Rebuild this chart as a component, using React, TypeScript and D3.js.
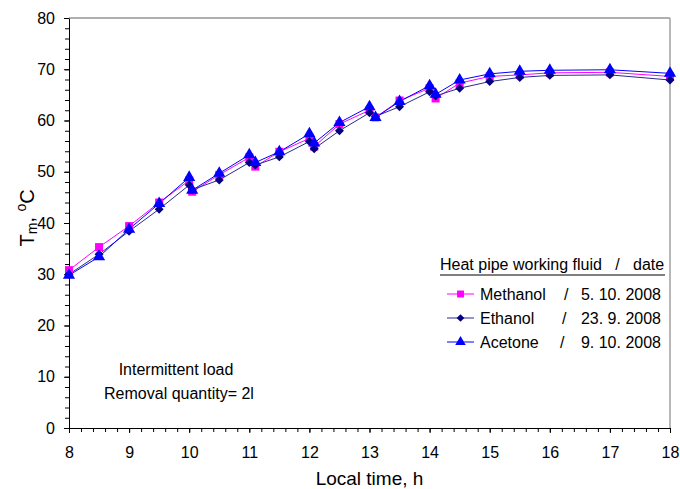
import { useEffect, useRef } from "react";
import * as d3 from "d3";

// local time, h (the second point after each full hour is the reading after water removal)
const times = [8, 8.5, 9, 9.5, 10, 10.05, 10.5, 11, 11.1, 11.5, 12, 12.08, 12.5, 13, 13.1, 13.5, 14, 14.1, 14.5, 15, 15.5, 16, 17, 18];

const methanol = [30.8, 35.3, 39.4, 44.0, 48.3, 46.1, 49.4, 52.8, 51.0, 53.9, 56.5, 54.9, 59.3, 62.0, 60.6, 63.9, 66.3, 64.3, 67.3, 68.6, 68.9, 69.3, 69.4, 68.6];
const ethanol = [30.0, 33.9, 38.4, 42.7, 47.4, 46.5, 48.4, 51.8, 51.3, 52.9, 55.9, 54.5, 58.0, 61.5, 60.8, 62.7, 65.6, 64.8, 66.3, 67.6, 68.4, 68.8, 68.9, 67.9];
const acetone = [29.8, 33.4, 38.8, 43.8, 48.9, 46.4, 49.7, 53.3, 51.8, 53.9, 57.4, 55.6, 59.6, 62.7, 60.6, 63.7, 66.8, 65.1, 67.9, 69.1, 69.6, 69.8, 69.9, 69.2];

const fluids = ["Methanol", "Ethanol", "Acetone"];
const dates = ["5. 10. 2008", "23. 9. 2008", "9. 10. 2008"];

const xTicks = [8, 9, 10, 11, 12, 13, 14, 15, 16, 17, 18];
const yTicks = [0, 10, 20, 30, 40, 50, 60, 70, 80];

const W = 680;
const H = 489;
const m = { l: 69, r: 10, t: 18, b: 61 };
const FONT = "'Liberation Sans', Arial, sans-serif";

const App = () => {
  const svgRef = useRef<SVGSVGElement>(null);

  useEffect(() => {
    const svg = d3.select(svgRef.current);
    svg.selectAll("*").remove();

    const x = d3.scaleLinear().domain([8, 18]).range([m.l, W - m.r]);
    const y = d3.scaleLinear().domain([0, 80]).range([H - m.b, m.t]);

    // frame (top and right)
    svg.append("line").attr("x1", m.l).attr("x2", W - m.r).attr("y1", m.t).attr("y2", m.t)
      .attr("stroke", "#606060").attr("stroke-width", 1);
    svg.append("line").attr("x1", W - m.r).attr("x2", W - m.r).attr("y1", m.t).attr("y2", H - m.b)
      .attr("stroke", "#a0a0a0").attr("stroke-width", 1.5);

    // minor ticks
    const xMinor = d3.range(8, 18.001, 0.2);
    const yMinor = d3.range(0, 80.001, 2);
    svg.append("g")
      .attr("transform", `translate(0,${H - m.b})`)
      .call(d3.axisBottom(x).tickValues(xMinor).tickSize(4).tickFormat(() => ""))
      .call((g) => g.select(".domain").remove());
    svg.append("g")
      .attr("transform", `translate(${m.l},0)`)
      .call(d3.axisLeft(y).tickValues(yMinor).tickSize(4).tickFormat(() => ""))
      .call((g) => g.select(".domain").remove());

    // major axes
    const xAxis = d3.axisBottom(x).tickValues(xTicks).tickSize(5).tickSizeOuter(0).tickPadding(14).tickFormat(d3.format("d"));
    const yAxis = d3.axisLeft(y).tickValues(yTicks).tickSize(5).tickSizeOuter(0).tickPadding(9).tickFormat(d3.format("d"));
    const gx = svg.append("g").attr("transform", `translate(0,${H - m.b})`).call(xAxis);
    const gy = svg.append("g").attr("transform", `translate(${m.l},0)`).call(yAxis);
    [gx, gy].forEach((g) => {
      g.selectAll("text").attr("font-family", FONT).attr("font-size", 16).attr("fill", "#000");
      g.selectAll("line, path").attr("stroke", "#000");
    });

    // axis titles
    svg.append("text")
      .attr("x", x(13)).attr("y", 485)
      .attr("text-anchor", "middle")
      .attr("font-family", FONT).attr("font-size", 19)
      .text("Local time, h");

    const yt = svg.append("text")
      .attr("transform", `translate(34,${y(41)}) rotate(-90)`)
      .attr("text-anchor", "middle")
      .attr("font-family", FONT).attr("font-size", 20);
    yt.append("tspan").text("T");
    yt.append("tspan").attr("font-size", 14).attr("baseline-shift", "-3").text("m");
    yt.append("tspan").text(", ");
    yt.append("tspan").attr("font-size", 14).attr("baseline-shift", "8").text("o");
    yt.append("tspan").text("C");

    // series
    const series = [
      { name: "Methanol", values: methanol, line: "#ff00ff", fill: "#ff00ff", symbol: d3.symbolSquare, size: 64, rot: 0 },
      { name: "Ethanol", values: ethanol, line: "#2a2a8c", fill: "#000080", symbol: d3.symbolSquare, size: 40, rot: 45 },
      { name: "Acetone", values: acetone, line: "#0000ff", fill: "#0000ff", symbol: d3.symbolTriangle, size: 64, rot: 0 },
    ];

    const line = d3.line<number>()
      .x((_, i) => x(times[i]))
      .y((d) => y(d));

    series.forEach((s) => {
      svg.append("path")
        .attr("d", line(s.values))
        .attr("fill", "none")
        .attr("stroke", s.line)
        .attr("stroke-width", 1);
    });
    series.forEach((s) => {
      svg.append("g")
        .selectAll("path")
        .data(s.values)
        .join("path")
        .attr("transform", (d, i) => `translate(${x(times[i])},${y(d)}) rotate(${s.rot})`)
        .attr("d", d3.symbol().type(s.symbol).size(s.size)())
        .attr("fill", s.fill);
    });

    // legend
    const lg = svg.append("g").attr("font-family", FONT).attr("font-size", 16);
    lg.append("text").attr("x", 440).attr("y", 270).attr("xml:space", "preserve")
      .text("Heat pipe working fluid   /   date");
    lg.append("line").attr("x1", 440).attr("x2", 665).attr("y1", 275).attr("y2", 275)
      .attr("stroke", "#000").attr("stroke-width", 1);
    series.forEach((s, i) => {
      const cy = 294 + i * 24;
      lg.append("line").attr("x1", 447).attr("x2", 474).attr("y1", cy).attr("y2", cy)
        .attr("stroke", s.line).attr("stroke-width", 1);
      lg.append("path")
        .attr("transform", `translate(460.5,${cy}) rotate(${s.rot})`)
        .attr("d", d3.symbol().type(s.symbol).size(s.size * 0.75)())
        .attr("fill", s.fill);
      lg.append("text").attr("x", 480).attr("y", cy + 6).text(fluids[i]);
      lg.append("text").attr("x", 564 - i * 2).attr("y", cy + 6).text("/");
      lg.append("text").attr("x", 661).attr("y", cy + 6).attr("text-anchor", "end").text(dates[i]);
    });

    // annotation
    const an = svg.append("g").attr("font-family", FONT).attr("font-size", 16).attr("text-anchor", "middle");
    an.append("text").attr("x", 176).attr("y", 375).text("Intermittent load");
    an.append("text").attr("x", 179).attr("y", 399).text("Removal quantity= 2l");
  }, []);

  return (
    <svg
      ref={svgRef}
      width={W}
      height={H}
      style={{ position: "absolute", left: 0, top: 0, background: "#fff" }}
    ></svg>
  );
};

export default App;
